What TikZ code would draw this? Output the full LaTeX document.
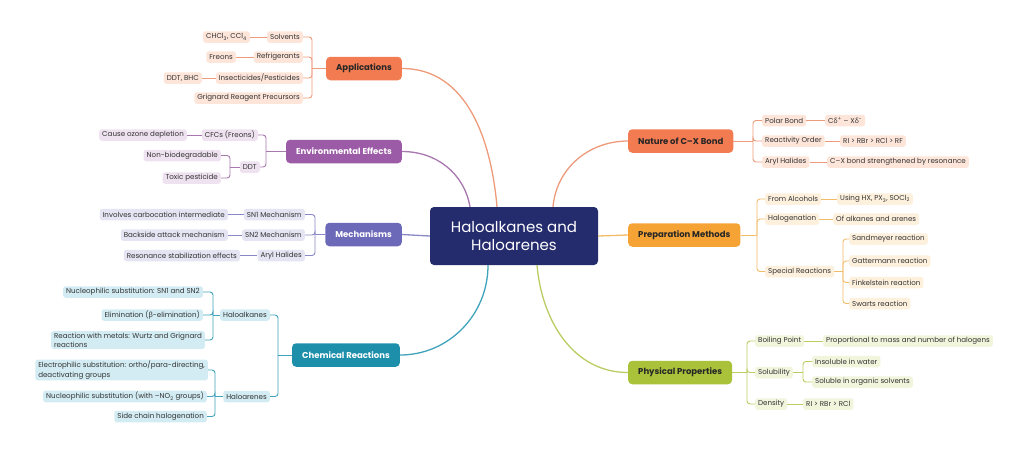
\documentclass[tikz,border=0pt]{standalone}
\usepackage{fontspec}
\setmainfont{Poppins}
\newfontfamily\grkfont{Noto Sans}
\usetikzlibrary{positioning}

\definecolor{navy}{HTML}{252C6E}
\definecolor{leaftext}{HTML}{333333}
\definecolor{appc}{HTML}{F37B51}
\definecolor{appl}{HTML}{FDE5DA}
\definecolor{appk}{HTML}{EE9B7B}
\definecolor{envc}{HTML}{9C5BA6}
\definecolor{envl}{HTML}{EFE2F0}
\definecolor{envk}{HTML}{A877B0}
\definecolor{mechc}{HTML}{6C69B9}
\definecolor{mechl}{HTML}{E4E4F2}
\definecolor{mechk}{HTML}{8A88C6}
\definecolor{chemc}{HTML}{1D8FAB}
\definecolor{cheml}{HTML}{D3ECF3}
\definecolor{chemk}{HTML}{3FA3BC}
\definecolor{prepc}{HTML}{F5A335}
\definecolor{prepl}{HTML}{FDF0DD}
\definecolor{prepk}{HTML}{F2BD6A}
\definecolor{physc}{HTML}{A9C23A}
\definecolor{physl}{HTML}{F0F5DC}
\definecolor{physk}{HTML}{B9CD62}

\newcommand{\leaffont}{\fontsize{7.1}{9.3}\selectfont}
\newcommand{\branchfont}{\fontsize{8.5}{10}\selectfont\bfseries}

\begin{document}
\begin{tikzpicture}[x=1pt,y=-1pt,
    leaf/.style={fill=#1, rounded corners=2.5pt, text=leaftext, font=\leaffont,
      minimum height=11.5pt, inner xsep=3pt, inner ysep=1.5pt},
    branch/.style={fill=#1, rounded corners=4pt, minimum height=23.5pt,
      inner xsep=10pt, font=\branchfont},
    link/.style={draw=#1, line width=0.9pt},
    fork/.style={draw=#1, line width=0.9pt, rounded corners=3pt},
    trunk/.style={draw=#1, line width=1.3pt}]
  \useasboundingbox[fill=white] (0,0) rectangle (1024,456);

  % centre
  \node[fill=navy, rounded corners=4pt, minimum width=168pt, minimum height=58pt,
    text=white, align=center, font=\fontsize{15}{18.5}\selectfont]
    (ctr) at (514,236) {Haloalkanes and\\Haloarenes};

  % main branches
  \node[branch=appc, text=black!85, anchor=east] (app) at (402,68.5) {Applications};
  \node[branch=envc, text=white, anchor=east] (env) at (402,151.5) {Environmental Effects};
  \node[branch=mechc, text=white, anchor=east] (mech) at (402,234.5) {Mechanisms};
  \node[branch=chemc, text=white, anchor=east] (chem) at (400,355) {Chemical Reactions};
  \node[branch=appc, text=black!85, anchor=west] (nat) at (628,141) {Nature of C–X Bond};
  \node[branch=prepc, text=black!85, anchor=west] (prep) at (628,235) {Preparation Methods};
  \node[branch=physc, text=black!85, anchor=west] (phys) at (628,372.5) {Physical Properties};

  % applications
  \node[leaf=appl, anchor=east] (a1) at (303,37) {Solvents};
  \node[leaf=appl, anchor=east] (a2) at (303,57) {Refrigerants};
  \node[leaf=appl, anchor=east] (a3) at (303,78) {Insecticides/Pesticides};
  \node[leaf=appl, anchor=east] (a4) at (303,98) {Grignard Reagent Precursors};
  \node[leaf=appl, anchor=east] (a11) at (250,37) {CHCl\textsubscript{3}, CCl\textsubscript{4}};
  \node[leaf=appl, anchor=east] (a21) at (236,57) {Freons};
  \node[leaf=appl, anchor=east] (a31) at (202,78) {DDT, BHC};

  % environmental effects
  \node[leaf=envl, anchor=east] (e1) at (258,135) {CFCs (Freons)};
  \node[leaf=envl, anchor=east] (e2) at (260,167) {DDT};
  \node[leaf=envl, anchor=east] (e11) at (187,135) {Cause ozone depletion};
  \node[leaf=envl, anchor=east] (e21) at (221,155.5) {Non-biodegradable};
  \node[leaf=envl, anchor=east] (e22) at (221,178) {Toxic pesticide};

  % mechanisms
  \node[leaf=mechl, anchor=east] (m1) at (305,214.5) {SN1 Mechanism};
  \node[leaf=mechl, anchor=east] (m2) at (305,235) {SN2 Mechanism};
  \node[leaf=mechl, anchor=east] (m3) at (305,255.5) {Aryl Halides};
  \node[leaf=mechl, anchor=east] (m11) at (228,214.5) {Involves carbocation intermediate};
  \node[leaf=mechl, anchor=east] (m21) at (228,235) {Backside attack mechanism};
  \node[leaf=mechl, anchor=east] (m31) at (240,255.5) {Resonance stabilization effects};

  % chemical reactions
  \node[leaf=cheml, anchor=east] (c1) at (270,315) {Haloalkanes};
  \node[leaf=cheml, anchor=east] (c2) at (270,396.5) {Haloarenes};
  \node[leaf=cheml, anchor=east] (c11) at (203,292) {Nucleophilic substitution: SN1 and SN2};
  \node[leaf=cheml, anchor=east] (c12) at (203,315) {Elimination ({\grkfont β}-elimination)};
  \node[leaf=cheml, anchor=east, align=left] (c13) at (205,340)
    {Reaction with metals: Wurtz and Grignard\\reactions};
  \node[leaf=cheml, anchor=east, align=left] (c21) at (208,370)
    {Electrophilic substitution: ortho/para-directing,\\deactivating groups};
  \node[leaf=cheml, anchor=east] (c22) at (207,396.5) {Nucleophilic substitution (with –NO\textsubscript{2} groups)};
  \node[leaf=cheml, anchor=east] (c23) at (207,416.5) {Side chain halogenation};

  % nature of C-X bond
  \node[leaf=appl, anchor=west] (n1) at (762,120.5) {Polar Bond};
  \node[leaf=appl, anchor=west] (n2) at (762,141) {Reactivity Order};
  \node[leaf=appl, anchor=west] (n3) at (762,162) {Aryl Halides};
  \node[leaf=appl, anchor=west] (n11) at (825,120.5)
    {C{\grkfont δ}\textsuperscript{+} – X{\grkfont δ}\textsuperscript{-}};
  \node[leaf=appl, anchor=west] (n21) at (840,141) {RI > RBr > RCl > RF};
  \node[leaf=appl, anchor=west] (n31) at (827,162) {C–X bond strengthened by resonance};

  % preparation methods
  \node[leaf=prepl, anchor=west] (p1) at (765,199) {From Alcohols};
  \node[leaf=prepl, anchor=west] (p2) at (765,219) {Halogenation};
  \node[leaf=prepl, anchor=west] (p3) at (765,271.5) {Special Reactions};
  \node[leaf=prepl, anchor=west] (p11) at (837,199) {Using HX, PX\textsubscript{3}, SOCl\textsubscript{2}};
  \node[leaf=prepl, anchor=west] (p21) at (833,219) {Of alkanes and arenes};
  \node[leaf=prepl, anchor=west] (p31) at (849,239) {Sandmeyer reaction};
  \node[leaf=prepl, anchor=west] (p32) at (849,261) {Gattermann reaction};
  \node[leaf=prepl, anchor=west] (p33) at (849,282.5) {Finkelstein reaction};
  \node[leaf=prepl, anchor=west] (p34) at (849,303.5) {Swarts reaction};

  % physical properties
  \node[leaf=physl, anchor=west] (y1) at (755,341) {Boiling Point};
  \node[leaf=physl, anchor=west] (y2) at (755,372.5) {Solubility};
  \node[leaf=physl, anchor=west] (y3) at (755,404) {Density};
  \node[leaf=physl, anchor=west] (y11) at (823,341) {Proportional to mass and number of halogens};
  \node[leaf=physl, anchor=west] (y21) at (812,361.5) {Insoluble in water};
  \node[leaf=physl, anchor=west] (y22) at (812,382) {Soluble in organic solvents};
  \node[leaf=physl, anchor=west] (y31) at (803,404) {RI > RBr > RCl};

  % fork points
  \coordinate (appj) at (312,68.5);
  \coordinate (envj) at (266,151.5);
  \coordinate (ddtj) at (230,167);
  \coordinate (mechj) at (315,234.5);
  \coordinate (chemj) at (278,355);
  \coordinate (alkj) at (213,315);
  \coordinate (arej) at (215,396.5);
  \coordinate (natj) at (753,141);
  \coordinate (prepj) at (757,235);
  \coordinate (specj) at (843,271.5);
  \coordinate (physj) at (747,372.5);
  \coordinate (solj) at (803,372.5);

  % centre to branches
  \draw[trunk=appk] ([xshift=-17pt]ctr.north) to[out=95,in=0] (app.east);
  \draw[trunk=envk] ([xshift=-44pt]ctr.north) to[out=100,in=0] (env.east);
  \draw[trunk=mechk] (ctr.west) -- (mech.east);
  \draw[trunk=chemk] ([xshift=-26pt]ctr.south) to[out=-90,in=0] (chem.east);
  \draw[trunk=appk] ([xshift=39pt]ctr.north) to[out=85,in=180] (nat.west);
  \draw[trunk=prepk] (ctr.east) -- (prep.west);
  \draw[trunk=physk] ([xshift=23pt]ctr.south) to[out=-85,in=180] (phys.west);

  % forks, left side
  \draw[link=appk] (app.west) -- (appj);
  \foreach \n in {a1,a2,a3,a4} \draw[fork=appk] (appj) |- (\n.east);
  \draw[link=appk] (a1.west) -- (a11.east);
  \draw[link=appk] (a2.west) -- (a21.east);
  \draw[link=appk] (a3.west) -- (a31.east);

  \draw[link=envk] (env.west) -- (envj);
  \foreach \n in {e1,e2} \draw[fork=envk] (envj) |- (\n.east);
  \draw[link=envk] (e1.west) -- (e11.east);
  \draw[link=envk] (e2.west) -- (ddtj);
  \foreach \n in {e21,e22} \draw[fork=envk] (ddtj) |- (\n.east);

  \draw[link=mechk] (mech.west) -- (mechj);
  \foreach \n in {m1,m2,m3} \draw[fork=mechk] (mechj) |- (\n.east);
  \draw[link=mechk] (m1.west) -- (m11.east);
  \draw[link=mechk] (m2.west) -- (m21.east);
  \draw[link=mechk] (m3.west) -- (m31.east);

  \draw[link=chemk] (chem.west) -- (chemj);
  \foreach \n in {c1,c2} \draw[fork=chemk] (chemj) |- (\n.east);
  \draw[link=chemk] (c1.west) -- (alkj);
  \foreach \n in {c11,c12,c13} \draw[fork=chemk] (alkj) |- (\n.east);
  \draw[link=chemk] (c2.west) -- (arej);
  \foreach \n in {c21,c22,c23} \draw[fork=chemk] (arej) |- (\n.east);

  % forks, right side
  \draw[link=appk] (nat.east) -- (natj);
  \foreach \n in {n1,n2,n3} \draw[fork=appk] (natj) |- (\n.west);
  \draw[link=appk] (n1.east) -- (n11.west);
  \draw[link=appk] (n2.east) -- (n21.west);
  \draw[link=appk] (n3.east) -- (n31.west);

  \draw[link=prepk] (prep.east) -- (prepj);
  \foreach \n in {p1,p2,p3} \draw[fork=prepk] (prepj) |- (\n.west);
  \draw[link=prepk] (p1.east) -- (p11.west);
  \draw[link=prepk] (p2.east) -- (p21.west);
  \draw[link=prepk] (p3.east) -- (specj);
  \foreach \n in {p31,p32,p33,p34} \draw[fork=prepk] (specj) |- (\n.west);

  \draw[link=physk] (phys.east) -- (physj);
  \foreach \n in {y1,y2,y3} \draw[fork=physk] (physj) |- (\n.west);
  \draw[link=physk] (y1.east) -- (y11.west);
  \draw[link=physk] (y2.east) -- (solj);
  \foreach \n in {y21,y22} \draw[fork=physk] (solj) |- (\n.west);
  \draw[link=physk] (y3.east) -- (y31.west);
\end{tikzpicture}
\end{document}
